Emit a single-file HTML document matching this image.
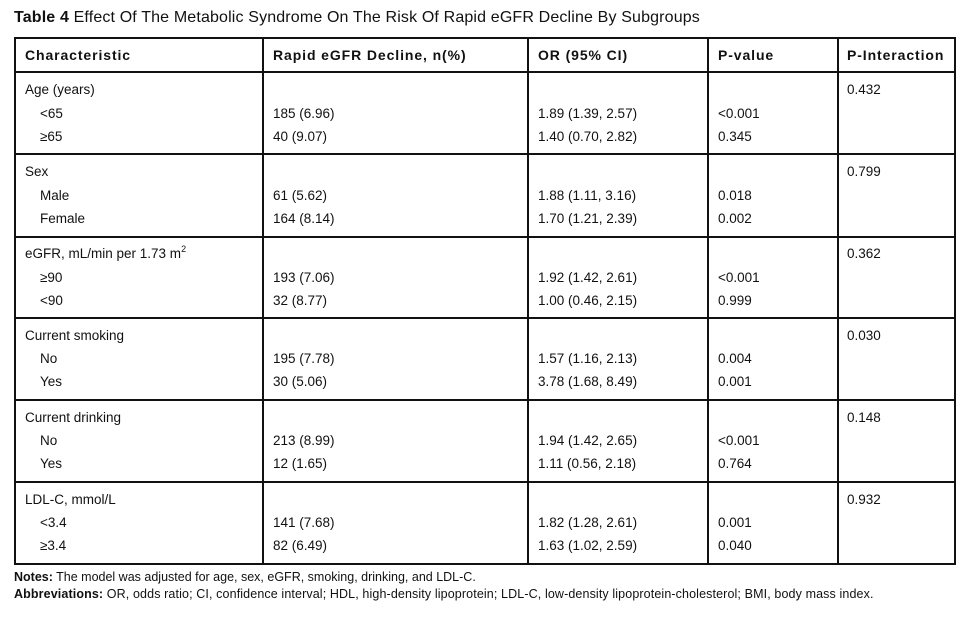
<!DOCTYPE html>
<html><head><style>
body{margin:0;width:965px;height:628px;background:#fff;font-family:"Liberation Sans",sans-serif;color:#111;position:relative;overflow:hidden}
.t{position:absolute;font-size:13.5px;white-space:nowrap;line-height:16px}
.h{position:absolute;background:#111;height:2px}
.v{position:absolute;background:#111;width:2px;top:38px;height:527px}
.b{font-weight:bold;font-size:14px;letter-spacing:0.9px}
sup{font-size:9px;line-height:0;vertical-align:6px}
</style></head><body>
<div class="t" style="left:14px;top:10px;font-size:16px;letter-spacing:0.15px"><b>Table 4</b> Effect Of The Metabolic Syndrome On The Risk Of Rapid eGFR Decline By Subgroups</div>
<div class="h" style="left:14px;width:942px;top:37px"></div>
<div class="h" style="left:14px;width:942px;top:71px"></div>
<div class="h" style="left:14px;width:942px;top:153px"></div>
<div class="h" style="left:14px;width:942px;top:236px"></div>
<div class="h" style="left:14px;width:942px;top:317px"></div>
<div class="h" style="left:14px;width:942px;top:399px"></div>
<div class="h" style="left:14px;width:942px;top:481px"></div>
<div class="h" style="left:14px;width:942px;top:563px"></div>
<div class="v" style="left:14px"></div>
<div class="v" style="left:262px"></div>
<div class="v" style="left:527px"></div>
<div class="v" style="left:707px"></div>
<div class="v" style="left:837px"></div>
<div class="v" style="left:954px"></div>
<div class="t b" style="left:25px;top:47px">Characteristic</div>
<div class="t b" style="left:273px;top:47px">Rapid eGFR Decline, n(%)</div>
<div class="t b" style="left:538px;top:47px">OR (95% CI)</div>
<div class="t b" style="left:718px;top:47px">P-value</div>
<div class="t b" style="left:847px;top:47px">P-Interaction</div>

<div class="t" style="left:25px;top:82px">Age (years)</div><div class="t" style="left:847px;top:82px">0.432</div>
<div class="t" style="left:40px;top:106px">&lt;65</div><div class="t" style="left:273px;top:106px">185 (6.96)</div><div class="t" style="left:538px;top:106px">1.89 (1.39, 2.57)</div><div class="t" style="left:718px;top:106px">&lt;0.001</div>
<div class="t" style="left:40px;top:129px">≥65</div><div class="t" style="left:273px;top:129px">40 (9.07)</div><div class="t" style="left:538px;top:129px">1.40 (0.70, 2.82)</div><div class="t" style="left:718px;top:129px">0.345</div>

<div class="t" style="left:25px;top:164px">Sex</div><div class="t" style="left:847px;top:164px">0.799</div>
<div class="t" style="left:40px;top:188px">Male</div><div class="t" style="left:273px;top:188px">61 (5.62)</div><div class="t" style="left:538px;top:188px">1.88 (1.11, 3.16)</div><div class="t" style="left:718px;top:188px">0.018</div>
<div class="t" style="left:40px;top:211px">Female</div><div class="t" style="left:273px;top:211px">164 (8.14)</div><div class="t" style="left:538px;top:211px">1.70 (1.21, 2.39)</div><div class="t" style="left:718px;top:211px">0.002</div>

<div class="t" style="left:25px;top:246px">eGFR, mL/min per 1.73 m<sup>2</sup></div><div class="t" style="left:847px;top:246px">0.362</div>
<div class="t" style="left:40px;top:270px">≥90</div><div class="t" style="left:273px;top:270px">193 (7.06)</div><div class="t" style="left:538px;top:270px">1.92 (1.42, 2.61)</div><div class="t" style="left:718px;top:270px">&lt;0.001</div>
<div class="t" style="left:40px;top:293px">&lt;90</div><div class="t" style="left:273px;top:293px">32 (8.77)</div><div class="t" style="left:538px;top:293px">1.00 (0.46, 2.15)</div><div class="t" style="left:718px;top:293px">0.999</div>

<div class="t" style="left:25px;top:328px">Current smoking</div><div class="t" style="left:847px;top:328px">0.030</div>
<div class="t" style="left:40px;top:351px">No</div><div class="t" style="left:273px;top:351px">195 (7.78)</div><div class="t" style="left:538px;top:351px">1.57 (1.16, 2.13)</div><div class="t" style="left:718px;top:351px">0.004</div>
<div class="t" style="left:40px;top:374px">Yes</div><div class="t" style="left:273px;top:374px">30 (5.06)</div><div class="t" style="left:538px;top:374px">3.78 (1.68, 8.49)</div><div class="t" style="left:718px;top:374px">0.001</div>

<div class="t" style="left:25px;top:410px">Current drinking</div><div class="t" style="left:847px;top:410px">0.148</div>
<div class="t" style="left:40px;top:433px">No</div><div class="t" style="left:273px;top:433px">213 (8.99)</div><div class="t" style="left:538px;top:433px">1.94 (1.42, 2.65)</div><div class="t" style="left:718px;top:433px">&lt;0.001</div>
<div class="t" style="left:40px;top:456px">Yes</div><div class="t" style="left:273px;top:456px">12 (1.65)</div><div class="t" style="left:538px;top:456px">1.11 (0.56, 2.18)</div><div class="t" style="left:718px;top:456px">0.764</div>

<div class="t" style="left:25px;top:492px">LDL-C, mmol/L</div><div class="t" style="left:847px;top:492px">0.932</div>
<div class="t" style="left:40px;top:515px">&lt;3.4</div><div class="t" style="left:273px;top:515px">141 (7.68)</div><div class="t" style="left:538px;top:515px">1.82 (1.28, 2.61)</div><div class="t" style="left:718px;top:515px">0.001</div>
<div class="t" style="left:40px;top:538px">≥3.4</div><div class="t" style="left:273px;top:538px">82 (6.49)</div><div class="t" style="left:538px;top:538px">1.63 (1.02, 2.59)</div><div class="t" style="left:718px;top:538px">0.040</div>

<div class="t" style="left:14px;top:569px;font-size:12.5px;letter-spacing:0"><b>Notes:</b> The model was adjusted for age, sex, eGFR, smoking, drinking, and LDL-C.</div>
<div class="t" style="left:14px;top:586px;font-size:12.5px;letter-spacing:0.12px"><b>Abbreviations:</b> OR, odds ratio; CI, confidence interval; HDL, high-density lipoprotein; LDL-C, low-density lipoprotein-cholesterol; BMI, body mass index.</div>
</body></html>
